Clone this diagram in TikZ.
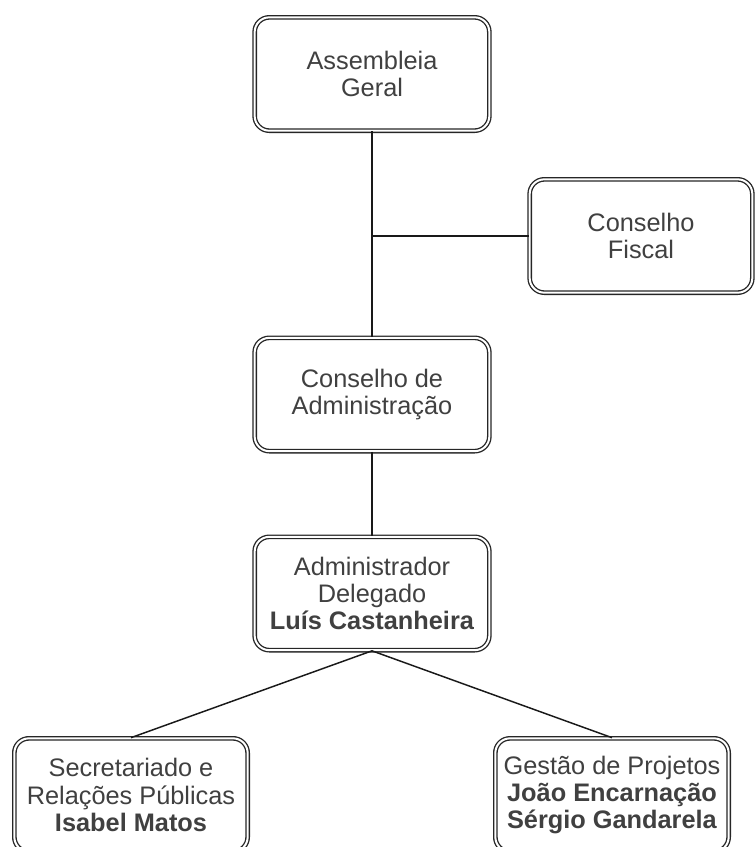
\documentclass[tikz,border=0pt]{standalone}
\usepackage{fontspec}
\setmainfont{Liberation Sans}

\tikzset{
  orgbox/.style={draw=black!85, double=white, double distance=1.5pt, line width=1pt,
    rounded corners=11pt, minimum width=176pt, minimum height=85pt, inner sep=0pt,
    align=center, text=black!75, font=\fontsize{19}{20.5}\selectfont},
  orgline/.style={draw=black!90, line width=1.1pt}
}

\begin{document}
\begin{tikzpicture}[x=0.75pt,y=0.75pt,yscale=-1,xscale=1]
  \useasboundingbox (0,0) rectangle (756,847);

  % Boxes
  \node [orgbox] (assembleia) at (372,74) {Assembleia\\Geral};
  \node [orgbox, minimum width=167pt] (fiscal) at (641,236) {Conselho\\Fiscal};
  \node [orgbox] (conselho) at (372,394.5) {Conselho de\\Administração};
  \node [orgbox] (delegado) at (372,593.5) {Administrador\\Delegado\\\textbf{Luís Castanheira}};
  \node [orgbox, minimum width=175pt] (secretariado) at (131,795) {Secretariado e\\Relações Públicas\\\textbf{Isabel Matos}};
  \node [orgbox, minimum width=175pt] (projetos) at (612,795) {Gestão de Projetos\\\textbf{João Encarnação}\\\textbf{Sérgio Gandarela}};

  % Connectors
  \coordinate (juncao) at (372,236);
  \draw [orgline] (assembleia.south) -- (conselho.north);
  \draw [orgline] (juncao) -- (fiscal.west);
  \draw [orgline] (conselho.south) -- (delegado.north);
  \draw [orgline] (delegado.south) -- (secretariado.north);
  \draw [orgline] (delegado.south) -- (projetos.north);

\end{tikzpicture}
\end{document}
